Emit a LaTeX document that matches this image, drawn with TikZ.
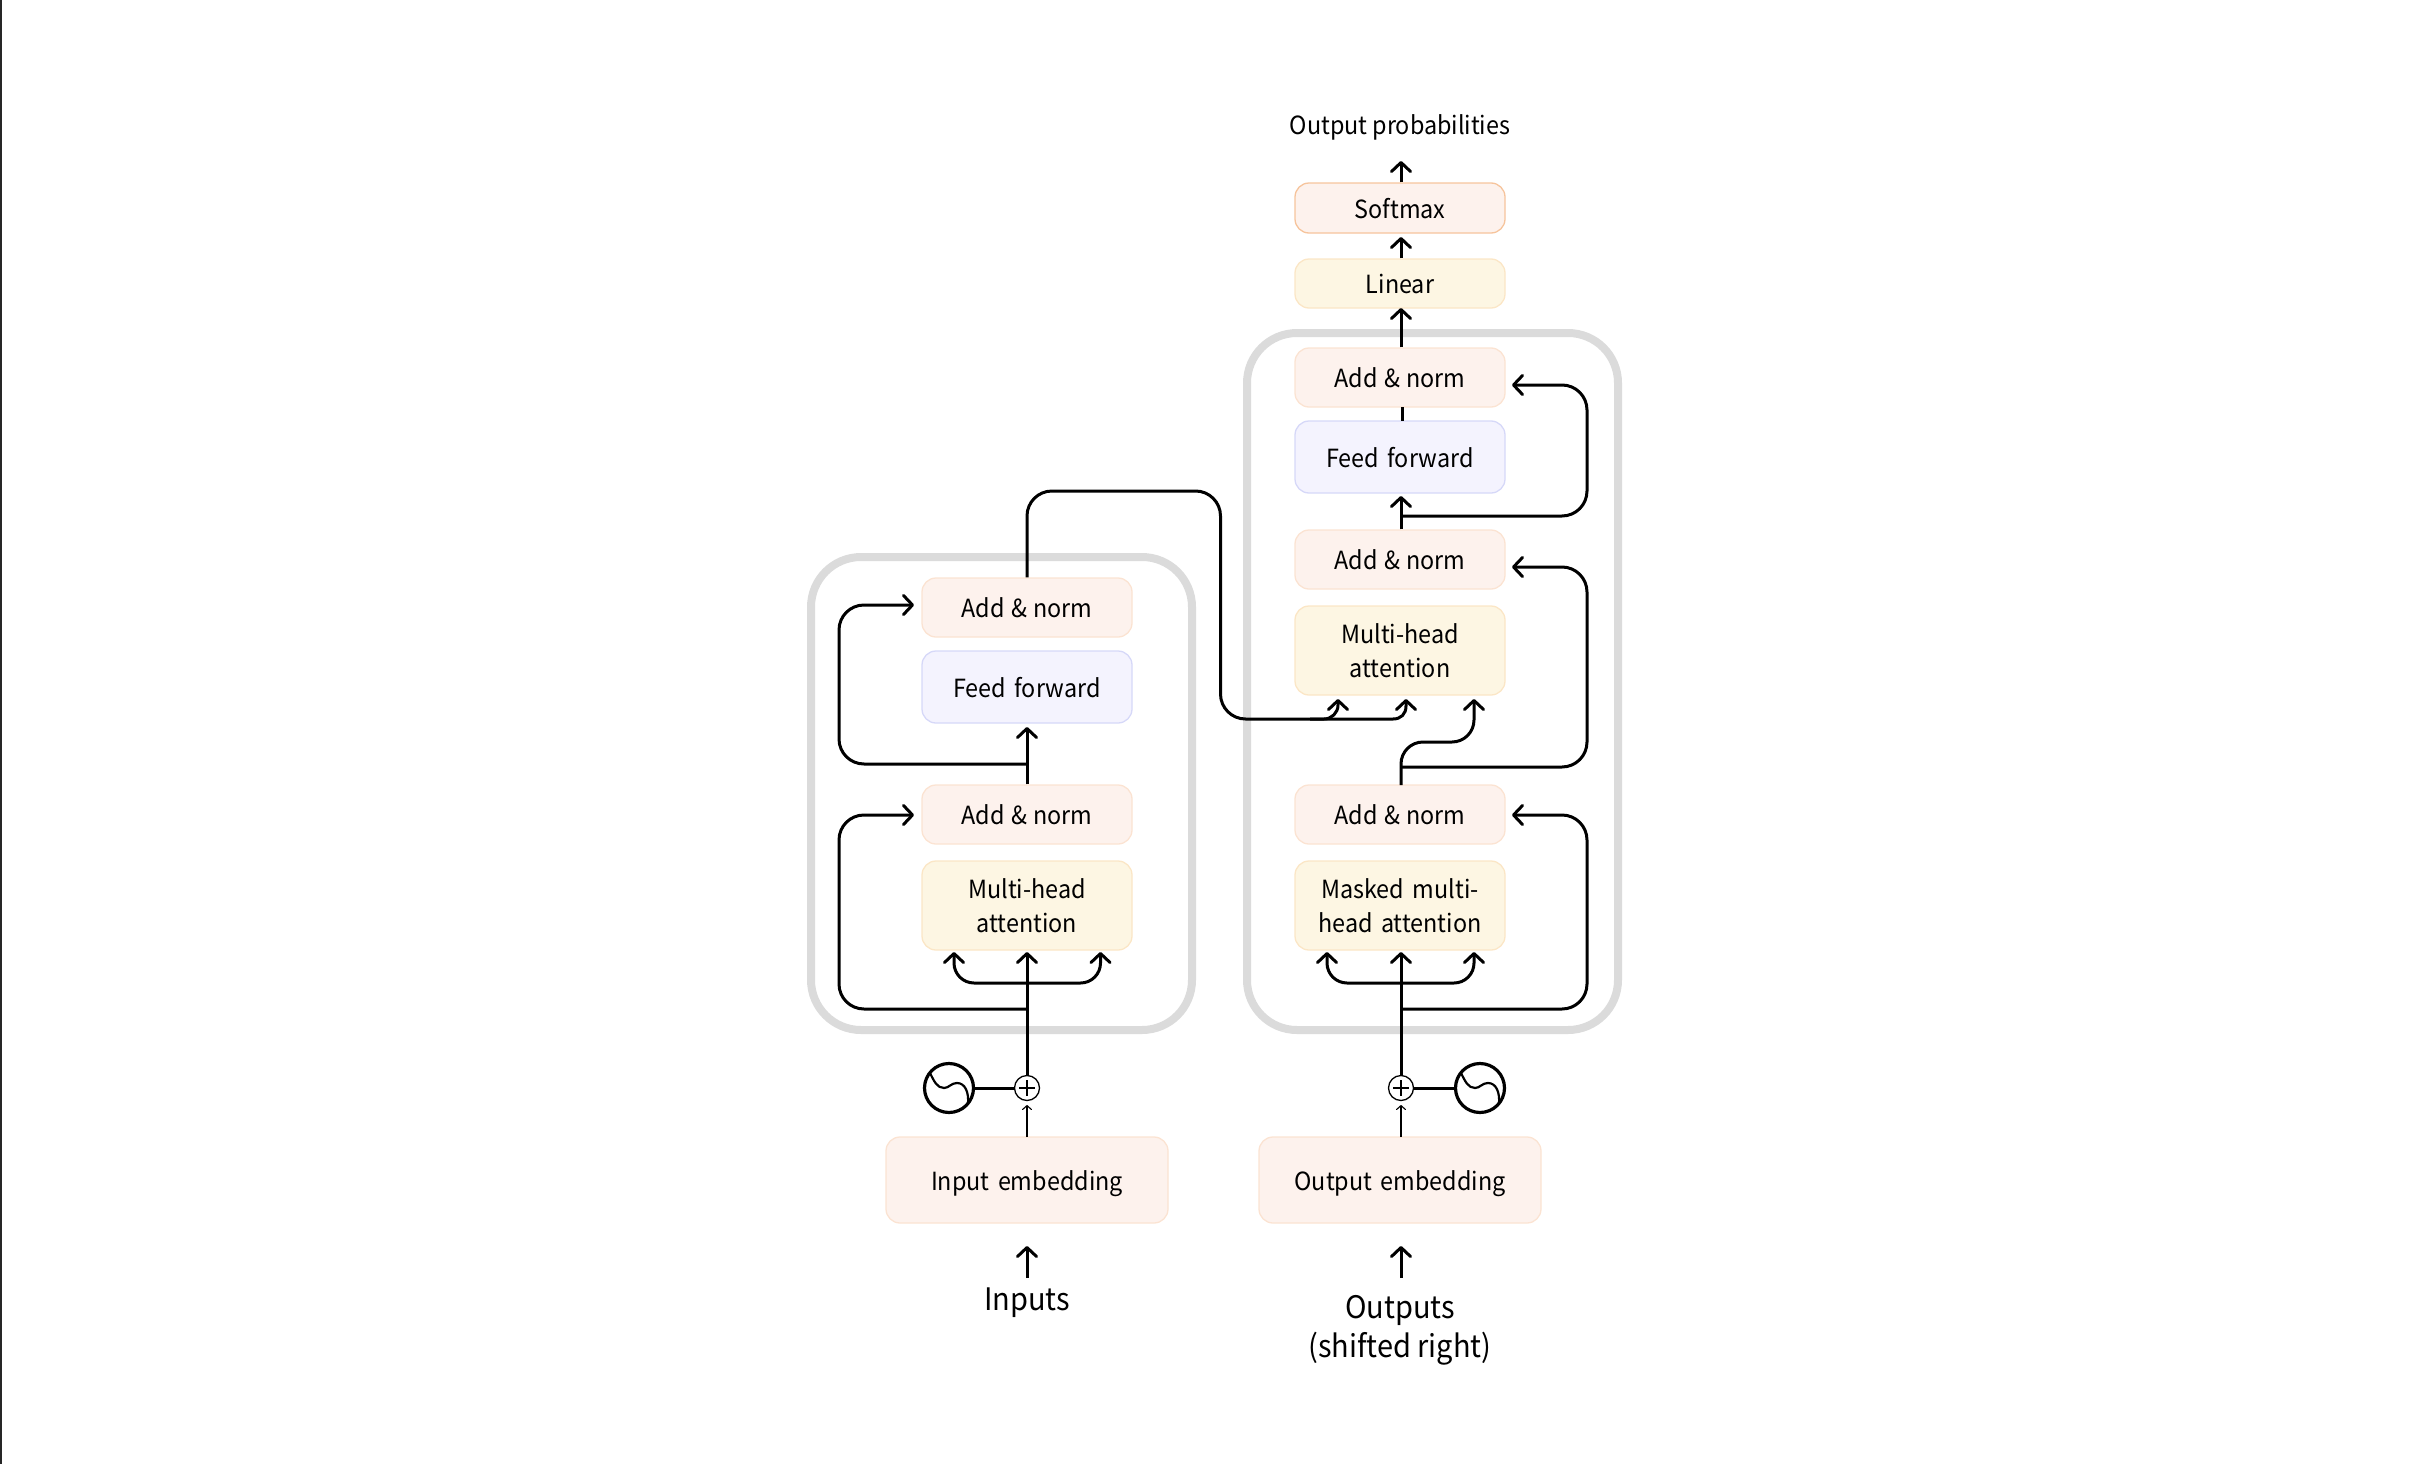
\documentclass[tikz,border=0pt]{standalone}
\usepackage{fontspec}
\setmainfont[FakeStretch=0.935,WordSpace=0.95]{Noto Sans CJK SC}
\usetikzlibrary{arrows.meta}
\definecolor{peachF}{HTML}{FDF2ED}
\definecolor{peachB}{HTML}{FBE3D2}
\definecolor{violetF}{HTML}{F4F3FE}
\definecolor{violetB}{HTML}{D6D8F8}
\definecolor{yellowF}{HTML}{FDF6E3}
\definecolor{yellowB}{HTML}{FBE6C6}
\definecolor{softB}{HTML}{F6C49C}
\definecolor{frameC}{HTML}{DBDBDB}
\tikzset{
  blk/.style={draw, rounded corners=14pt, line width=1.3pt, inner sep=0pt, align=center,
    text width=200pt, minimum width=210pt, font=\fontsize{25}{34}\selectfont},
  one/.style={text height=24pt, text depth=4pt},
  addn/.style={blk, one, fill=peachF, draw=peachB, minimum height=59pt,
    execute at begin node={\spaceskip=6.3pt\relax}},
  ffwd/.style={blk, one, fill=violetF, draw=violetB, minimum height=72pt},
  attn/.style={blk, fill=yellowF, draw=yellowB, minimum height=89pt},
  lin/.style={blk, one, fill=yellowF, draw=yellowB, minimum height=49pt},
  soft/.style={blk, one, fill=peachF, draw=softB, minimum height=50pt},
  emb/.style={blk, one, text width=270pt, fill=peachF, draw=peachB, minimum width=282pt, minimum height=86pt},
  frame/.style={draw=frameC, line width=8pt, rounded corners=50pt, inner sep=0pt},
  lab/.style={inner sep=0pt, align=center, font=\fontsize{31}{39}\selectfont},
  arr/.style={line width=3pt, -{Straight Barb[length=9pt,width=19pt,line width=3pt,round]}},
  arrboth/.style={line width=3pt, {Straight Barb[length=9pt,width=19pt,line width=3pt,round]}-{Straight Barb[length=9pt,width=19pt,line width=3pt,round]}},
  thinarr/.style={line width=1.1pt, -{Straight Barb[length=4pt,width=9pt,line width=1.1pt,round]}},
  wire/.style={line width=3pt},
  plusn/.style={circle, draw, fill=white, line width=1.3pt, minimum size=25pt, inner sep=0pt},
  sinen/.style={circle, draw, line width=3.2pt, minimum size=49pt, inner sep=0pt},
  wave/.style={line width=2.2pt},
}
\begin{document}
\begin{tikzpicture}[x=1pt,y=-1pt]
\useasboundingbox (0,0) rectangle (2418,1464);
\fill[black!85] (0,0) rectangle (2,1464);

% frames
\node[frame, minimum width=381pt, minimum height=473pt] (encF) at (1001.5,793.5) {};
\node[frame, minimum width=371pt, minimum height=697pt] (decF) at (1432.5,681.5) {};

% encoder blocks
\node[addn] (eAdd2) at (1027,607.5) {Add \& norm};
\node[ffwd] (eFF) at (1027,687) {Feed forward};
\node[addn] (eAdd1) at (1027,814.5) {Add \& norm};
\node[attn] (eMH) at (1027,905.5) {Multi-head\\attention};
\node[emb] (eEmb) at (1027,1180) {Input embedding};
\node[lab] (inp) at (1027,1303) {Inputs};

% decoder blocks
\node[lab, font=\fontsize{25}{34}\selectfont] (prob) at (1400,127) {Output probabilities};
\node[soft] (soft) at (1400,208) {Softmax};
\node[lin] (lin) at (1400,283.5) {Linear};
\node[addn] (dAdd3) at (1400,377.5) {Add \& norm};
\node[ffwd] (dFF) at (1400,457) {Feed forward};
\node[addn] (dAdd2) at (1400,559.5) {Add \& norm};
\node[attn] (dMH) at (1400,650.5) {Multi-head\\attention};
\node[addn] (dAdd1) at (1400,814.5) {Add \& norm};
\node[attn] (dMM) at (1400,905.5) {Masked multi-\\head attention};
\node[emb] (dEmb) at (1400,1180) {Output embedding};
\node[lab] (outp) at (1400,1330) {Outputs\\(shifted right)};

% positional encodings
\node[plusn] (pL) at (1027,1088) {};
\node[plusn] (pR) at (1401,1088) {};
\node[sinen] (sL) at (949,1088) {};
\node[sinen] (sR) at (1480,1088) {};
\foreach \n in {pL,pR}{
  \draw[line width=2.4pt] (\n.center) ++(-8,0) -- ++(16,0);
  \draw[line width=2.4pt] (\n.center) ++(0,-8) -- ++(0,16);
}
\foreach \n in {sL,sR}{
  \begin{scope}[shift={(\n.center)}]
  \draw[wave] (-19,-15) .. controls (-15,-7) and (-12,0) .. (-5,0)
     .. controls (0,0) and (2,-5) .. (8,-5)
     .. controls (16,-5) and (20,4) .. (19,16);
  \end{scope}
}
\draw[wire] (sL) -- (pL);
\draw[wire] (pR) -- (sR);

% named points
\coordinate (eTipL) at (954,952);
\coordinate (eTipC) at (1027,952);
\coordinate (eTipR) at (1100.5,952);
\coordinate (dTipL) at (1327,952);
\coordinate (dTipC) at (1401,952);
\coordinate (dTipR) at (1474,952);
\coordinate (eFFTip) at (1027,727);
\coordinate (eJ2) at (1027,764);
\coordinate (eJ1) at (1027,1009);
\coordinate (dJ1) at (1401,1009);
\coordinate (dJ2) at (1401,767);
\coordinate (dJ3) at (1401,516);
\coordinate (xJ) at (1393,719);

% thin arrows and input arrows
\draw[thinarr] (1027,1137) -- (1027,1105);
\draw[thinarr] (1401,1137) -- (1401,1105);
\draw[arr] (1027,1278) -- (1027,1246);
\draw[arr] (1401,1278) -- (1401,1246);

% encoder wires
\draw[arr] (pL) -- (eTipC);
\draw[arrboth, rounded corners=20pt] (eTipL) -- (954,983) -- (1100.5,983) -- (eTipR);
\draw[arr, rounded corners=25pt] (eJ1) -- (839,1009) -- (839,815) -- (914,815);
\draw[arr] (eAdd1.north -| eJ1) -- (eFFTip);
\draw[arr, rounded corners=25pt] (eJ2) -- (839,764) -- (839,605) -- (914,605);

% decoder lower wires
\draw[arr] (pR) -- (dTipC);
\draw[arrboth, rounded corners=20pt] (dTipL) -- (1327,983) -- (1474,983) -- (dTipR);
\draw[arr, rounded corners=25pt] (dJ1) -- (1587,1009) -- (1587,815) -- (1512,815);
\draw[arr, rounded corners=25pt] (dJ2) -- (1587,767) -- (1587,567) -- (1512,567);
\draw[arr, rounded corners=22pt] (1401,785) -- (1401,742) -- (1474,742) -- (1474,699);

% encoder to decoder
\draw[wire, rounded corners=25pt] (eAdd2.north -| eJ1) -- (1027,491) -- (1220.5,491) -- (1220.5,719) -- (xJ);
\draw[arr] (xJ) .. controls (1401,719) and (1406,714) .. (1406,706) -- (1406,699);
\draw[arr, rounded corners=14pt] (1310,719) -- (1338,719) -- (1338,699);

% decoder upper wires
\draw[arr] (dAdd2.north -| dJ3) -- (1401,496);
\draw[arr, rounded corners=25pt] (dJ3) -- (1587,516) -- (1587,385) -- (1512,385);
\draw[wire] (1402,407) -- (1402,421);
\draw[arr] (dAdd3.north -| dJ3) -- (1401,308);
\draw[arr] (lin.north -| dJ3) -- (1401,237);
\draw[arr] (soft.north -| dJ3) -- (1401,161);
\end{tikzpicture}
\end{document}
